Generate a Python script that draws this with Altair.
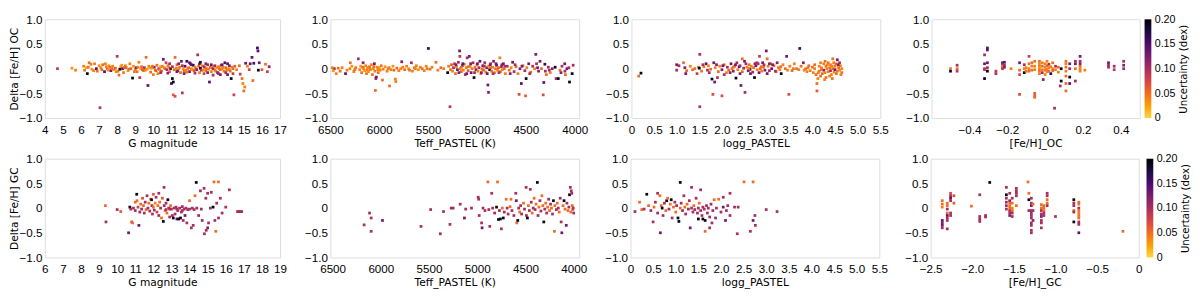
import altair as alt
import pandas as pd

# ---------- data: [x, delta, uncertainty] ----------
OC_G = [[4.7,0.0,.09],[5.5,0.01,.03],[5.7,-0.03,.04],[6.15,0.05,.04],[6.2,-0.03,.05],[6.3,0.02,.02],[6.35,-0.1,.19],[6.45,0.12,.05],[6.55,0.09,.04],[6.6,-0.01,.03],[6.75,0.1,.04],[6.85,0.0,.14],[6.9,-0.05,.05],[7.0,0.06,.03],[7.05,-0.79,.09],[7.1,0.02,.04],[7.2,0.08,.05],[7.3,-0.06,.14],[7.35,0.1,.04],[7.45,0.0,.06],[7.5,-0.03,.03],[7.55,0.06,.03],[7.6,0.03,.05],[7.65,-0.04,.13],[7.75,0.05,.04],[7.8,-0.02,.03],[7.9,0.01,.06],[8.0,0.25,.09],[8.05,-0.05,.04],[8.1,-0.13,.05],[8.15,-0.01,.19],[8.2,0.04,.03],[8.25,0.07,.03],[8.3,0.0,.14],[8.35,-0.08,.04],[8.45,0.06,.04],[8.5,0.02,.05],[8.6,-0.04,.03],[8.7,0.1,.04],[8.75,0.0,.06],[8.85,-0.19,.19],[8.9,0.05,.03],[8.95,-0.06,.04],[9.0,-0.02,.04],[9.05,0.02,.12],[9.1,-0.06,.05],[9.2,0.13,.04],[9.25,-0.18,.09],[9.3,0.0,.03],[9.35,0.04,.05],[9.45,-0.04,.04],[9.5,0.02,.10],[9.55,-0.03,.04],[9.6,0.23,.05],[9.65,-0.01,.03],[9.7,-0.34,.14],[9.75,0.05,.04],[9.8,0.02,.03],[9.85,-0.07,.05],[9.9,0.01,.03],[10.0,-0.12,.04],[10.05,0.03,.12],[10.1,-0.03,.04],[10.2,0.07,.05],[10.25,-0.1,.04],[10.3,0.0,.11],[10.35,-0.02,.04],[10.4,0.04,.03],[10.45,-0.05,.06],[10.55,0.19,.13],[10.6,0.02,.04],[10.65,0.0,.05],[10.7,0.12,.08],[10.75,-0.02,.10],[10.8,0.06,.04],[10.85,0.03,.04],[10.9,-0.06,.05],[10.95,0.0,.15],[11.0,-0.3,.16],[11.05,-0.2,.19],[11.1,-0.27,.19],[11.1,-0.53,.06],[11.15,-0.02,.05],[11.2,-0.56,.07],[11.2,0.23,.05],[11.25,0.01,.04],[11.3,0.08,.05],[11.35,-0.04,.12],[11.4,0.0,.04],[11.45,0.03,.04],[11.5,-0.08,.05],[11.55,0.15,.13],[11.6,-0.49,.09],[11.65,0.0,.03],[11.7,-0.05,.05],[11.75,0.05,.14],[11.8,-0.03,.04],[11.85,0.15,.16],[11.9,0.0,.04],[11.95,0.02,.05],[12.0,-0.06,.13],[12.05,0.1,.12],[12.1,0.0,.04],[12.15,-0.02,.03],[12.2,0.07,.17],[12.25,-0.04,.06],[12.3,0.03,.04],[12.35,0.0,.05],[12.4,-0.02,.12],[12.45,0.28,.10],[12.5,0.05,.05],[12.55,-0.08,.04],[12.6,0.01,.19],[12.65,-0.03,.10],[12.7,0.06,.04],[12.75,-0.03,.04],[12.8,-0.1,.08],[12.85,0.02,.04],[12.9,-0.04,.05],[12.95,0.0,.05],[13.0,0.08,.10],[13.05,-0.01,.04],[13.1,-0.27,.14],[13.15,0.03,.05],[13.2,-0.06,.04],[13.25,0.02,.04],[13.3,0.0,.12],[13.35,0.05,.04],[13.4,-0.03,.05],[13.45,-0.05,.04],[13.5,0.02,.03],[13.55,-0.08,.13],[13.6,0.04,.04],[13.65,0.0,.05],[13.7,-0.02,.05],[13.75,0.07,.10],[13.8,0.0,.04],[13.85,0.03,.04],[13.9,-0.05,.04],[13.95,0.12,.14],[14.0,0.02,.05],[14.05,-0.03,.04],[14.1,0.1,.14],[14.15,0.0,.03],[14.2,-0.02,.04],[14.25,-0.05,.05],[14.3,-0.2,.19],[14.35,0.03,.04],[14.4,0.0,.05],[14.45,-0.53,.08],[14.5,0.05,.06],[14.6,-0.02,.04],[14.75,0.06,.05],[14.8,-0.11,.08],[14.9,-0.2,.05],[14.95,-0.3,.04],[15.0,-0.45,.05],[15.05,-0.37,.04],[15.1,0.11,.13],[15.2,0.05,.04],[15.3,-0.02,.08],[15.35,0.1,.14],[15.45,0.23,.14],[15.5,-0.24,.05],[15.55,0.11,.15],[15.75,0.42,.16],[15.78,0.36,.14],[15.8,-0.03,.19],[15.85,0.12,.13],[16.0,-0.02,.06],[16.2,0.09,.05],[16.3,-0.06,.08],[16.4,0.04,.11]]
OC_G_BAND = [[6.4,0.03,.05],[6.7,-0.04,.04],[7.15,-0.02,.05],[7.4,0.04,.04],[7.7,0.0,.05],[7.95,-0.06,.04],[8.4,0.02,.06],[8.65,-0.01,.05],[9.15,0.03,.04],[9.4,-0.02,.06],[9.95,0.05,.05],[10.15,-0.04,.06],[10.5,0.05,.04],[10.8,-0.09,.12],[11.05,0.04,.10],[11.3,-0.06,.13],[11.6,0.06,.10],[11.85,-0.07,.05],[12.1,0.08,.14],[12.3,-0.09,.10],[12.55,0.1,.13],[12.8,0.04,.10],[13.0,-0.08,.12],[13.2,0.08,.13],[13.4,0.06,.10],[13.6,-0.1,.10],[13.8,0.08,.13],[14.0,-0.08,.10],[14.2,0.06,.12],[14.4,-0.1,.08],[12.0,0.12,.14],[12.6,0.13,.17],[13.7,-0.12,.12],[11.4,0.1,.12],[10.9,0.1,.10],[14.1,-0.12,.13],[13.3,-0.13,.10],[12.9,0.1,.12],[11.7,-0.1,.12],[10.4,-0.08,.10]]

OC_TEFF = [[6460,0.0,.12],[6480,0.02,.04],[6470,-0.04,.03],[6440,-0.1,.04],[6420,0.01,.05],[6400,-0.05,.05],[6380,0.02,.04],[6345,-0.1,.14],[6330,-0.03,.04],[6300,0.0,.04],[6296,0.12,.05],[6280,0.05,.03],[6260,-0.06,.04],[6240,0.02,.05],[6214,0.2,.10],[6200,-0.02,.04],[6190,0.05,.03],[6180,-0.08,.05],[6165,0.12,.12],[6160,0.0,.04],[6150,-0.04,.03],[6140,0.06,.04],[6130,-0.1,.05],[6120,0.02,.04],[6110,-0.06,.03],[6100,0.04,.05],[6090,-0.02,.04],[6080,0.08,.04],[6070,-0.12,.05],[6060,0.0,.03],[6050,0.1,.13],[6045,-0.05,.04],[6040,-0.44,.05],[6035,-0.2,.10],[6030,-0.17,.13],[6020,0.03,.04],[6010,-0.08,.05],[6000,0.02,.03],[5990,-0.03,.04],[5980,0.06,.05],[5967,-0.23,.05],[5960,-0.01,.04],[5940,0.04,.03],[5920,-0.05,.04],[5900,0.02,.05],[5895,-0.35,.05],[5880,-0.02,.04],[5860,0.05,.03],[5836,-0.21,.04],[5830,-0.26,.04],[5820,0.01,.05],[5800,-0.04,.04],[5770,0.14,.12],[5760,0.03,.04],[5740,-0.02,.05],[5720,0.05,.04],[5700,0.0,.03],[5671,0.12,.10],[5660,-0.05,.04],[5640,0.02,.05],[5620,0.06,.04],[5600,-0.02,.03],[5580,0.03,.04],[5560,0.0,.05],[5540,-0.04,.04],[5520,0.05,.04],[5497,0.41,.16],[5480,-0.01,.05],[5460,0.03,.04],[5420,0.13,.05],[5400,-0.03,.04],[5370,0.02,.05],[5340,0.0,.04],[5300,-0.08,.19],[5290,0.05,.04],[5276,-0.77,.09],[5270,-0.02,.05],[5260,0.08,.06],[5250,-0.05,.04],[5240,0.02,.10],[5230,0.1,.08],[5220,-0.1,.05],[5210,0.04,.04],[5200,-0.02,.13],[5190,0.13,.10],[5178,0.36,.13],[5175,0.25,.09],[5170,0.0,.04],[5160,-0.06,.05],[5150,0.06,.12],[5140,-0.03,.04],[5130,0.09,.05],[5120,-0.12,.10],[5110,0.02,.04],[5100,0.22,.10],[5090,-0.04,.06],[5079,0.25,.13],[5070,0.05,.04],[5060,-0.08,.13],[5050,0.0,.05],[5040,0.12,.10],[5030,-0.18,.19],[5020,0.03,.04],[5010,-0.02,.12],[5000,0.08,.05],[4990,-0.05,.04],[4980,0.02,.10],[4970,0.15,.14],[4960,-0.1,.05],[4950,0.0,.04],[4940,0.06,.13],[4930,-0.03,.05],[4920,0.12,.10],[4910,-0.07,.04],[4900,0.02,.12],[4888,-0.33,.13],[4882,-0.48,.12],[4880,0.05,.04],[4870,-0.02,.19],[4860,0.1,.10],[4850,-0.05,.05],[4840,0.03,.04],[4830,0.15,.12],[4820,-0.08,.04],[4810,0.0,.05],[4800,0.07,.14],[4790,-0.03,.04],[4780,0.02,.06],[4766,0.22,.04],[4760,-0.06,.05],[4750,0.04,.10],[4740,-0.02,.04],[4730,0.1,.13],[4720,0.0,.05],[4710,-0.1,.04],[4690,0.05,.10],[4670,-0.03,.05],[4650,0.02,.04],[4635,0.13,.13],[4620,-0.06,.10],[4600,0.04,.05],[4580,-0.1,.04],[4569,-0.52,.07],[4560,0.0,.12],[4546,-0.3,.14],[4530,0.06,.05],[4510,-0.04,.10],[4503,-0.55,.06],[4497,-0.2,.19],[4490,0.02,.04],[4470,0.1,.13],[4450,-0.07,.05],[4430,0.05,.10],[4410,0.0,.04],[4398,0.29,.12],[4390,0.1,.10],[4370,-0.05,.12],[4355,0.15,.13],[4340,0.0,.05],[4322,-0.53,.07],[4316,-0.28,.14],[4305,0.09,.16],[4300,-0.05,.10],[4290,-0.12,.05],[4270,0.03,.10],[4250,-0.08,.04],[4230,0.0,.12],[4200,0.03,.19],[4190,-0.2,.10],[4168,-0.2,.19],[4150,-0.03,.05],[4130,0.05,.10],[4102,0.1,.13],[4100,-0.05,.10],[4095,-0.12,.05],[4080,0.0,.13],[4053,-0.27,.19],[4026,-0.1,.19],[4016,0.07,.10]]
OC_TEFF_BAND = [[6250,-0.02,.05],[6170,0.03,.05],[6125,-0.03,.04],[6095,0.0,.04],[6055,0.04,.05],[6015,-0.02,.04],[5910,0.0,.04],[5850,-0.03,.05],[5780,0.0,.04],[5690,-0.03,.05],[5630,0.0,.04],[5510,0.0,.05],[5215,0.08,.13],[5185,-0.08,.12],[5145,0.1,.14],[5105,-0.1,.13],[5065,0.1,.12],[5025,-0.08,.10],[4995,0.1,.13],[4955,-0.08,.12],[4925,0.05,.10],[4895,-0.1,.13],[4865,0.08,.12],[4835,-0.1,.10],[4805,0.1,.13],[4775,-0.08,.10],[4745,0.08,.12],[4715,0.05,.10],[4660,-0.1,.12],[4610,0.08,.10],[4540,0.05,.12],[4460,-0.1,.10],[4380,0.02,.13],[4260,-0.03,.10],[4140,-0.08,.12],[4060,0.02,.10],[5160,0.03,.05],[5090,0.04,.05],[4940,-0.02,.05],[4860,0.02,.05]]

OC_LOGG = [[0.16,-0.15,.05],[0.21,-0.09,.19],[1.0,0.08,.13],[1.0,-0.03,.10],[1.05,0.06,.10],[1.15,0.12,.05],[1.18,0.02,.12],[1.2,-0.1,.13],[1.22,-0.04,.05],[1.3,0.05,.04],[1.35,-0.02,.05],[1.45,-0.1,.08],[1.48,0.03,.04],[1.51,-0.77,.09],[1.51,0.29,.10],[1.5,0.01,.19],[1.55,-0.05,.05],[1.6,0.04,.04],[1.65,0.1,.14],[1.68,-0.03,.10],[1.7,0.06,.04],[1.75,-0.01,.05],[1.78,-0.21,.19],[1.8,-0.52,.07],[1.82,0.12,.13],[1.84,-0.27,.13],[1.85,0.02,.04],[1.9,-0.18,.09],[1.92,-0.06,.05],[1.95,0.05,.04],[2.0,-0.55,.07],[2.0,-0.02,.12],[2.05,0.08,.05],[2.1,-0.08,.04],[2.12,0.03,.10],[2.15,-0.03,.05],[2.2,0.1,.13],[2.22,0.0,.04],[2.25,-0.05,.12],[2.28,0.05,.05],[2.31,-0.19,.19],[2.33,0.12,.10],[2.35,-0.02,.04],[2.38,0.04,.14],[2.42,-0.34,.13],[2.45,0.2,.05],[2.45,-0.06,.05],[2.48,0.01,.10],[2.5,0.15,.13],[2.51,-0.48,.10],[2.55,0.03,.04],[2.58,-0.04,.12],[2.6,0.08,.05],[2.62,-0.01,.19],[2.65,0.05,.04],[2.68,-0.07,.10],[2.7,0.02,.05],[2.72,-0.18,.19],[2.75,0.06,.13],[2.78,-0.02,.04],[2.8,0.1,.10],[2.83,0.25,.08],[2.85,0.0,.05],[2.88,-0.05,.04],[2.9,0.12,.13],[2.92,0.03,.05],[2.95,-0.03,.12],[2.98,0.36,.13],[3.0,0.2,.05],[3.02,0.05,.04],[3.05,-0.04,.10],[3.08,0.1,.04],[3.1,0.0,.13],[3.15,0.06,.05],[3.2,-0.06,.04],[3.22,0.12,.12],[3.25,0.02,.05],[3.28,-0.02,.04],[3.31,-0.1,.19],[3.35,0.08,.04],[3.4,0.0,.05],[3.43,0.25,.13],[3.45,-0.03,.04],[3.48,-0.52,.07],[3.5,0.05,.04],[3.55,-0.04,.05],[3.6,0.1,.04],[3.65,0.0,.05],[3.72,0.41,.16],[3.7,-0.02,.04],[3.75,0.05,.05],[3.8,0.12,.12],[3.82,-0.03,.04],[3.85,0.0,.05],[3.88,-0.06,.04],[3.9,0.02,.05],[3.95,-0.04,.04],[4.0,0.03,.05],[4.02,-0.08,.04],[4.05,0.0,.04],[4.08,-0.12,.05],[4.1,-0.45,.06],[4.1,-0.3,.05],[4.12,-0.2,.04],[4.15,0.05,.04],[4.15,-0.05,.05],[4.18,-0.15,.05],[4.2,0.02,.04],[4.22,-0.1,.05],[4.25,0.1,.04],[4.25,-0.03,.12],[4.28,-0.08,.04],[4.3,0.05,.05],[4.3,-0.18,.05],[4.32,0.0,.04],[4.35,-0.06,.04],[4.35,0.12,.05],[4.38,0.02,.05],[4.4,-0.04,.10],[4.4,0.08,.04],[4.42,-0.12,.04],[4.45,0.2,.05],[4.45,0.0,.05],[4.48,-0.07,.04],[4.5,0.05,.04],[4.5,-0.02,.13],[4.52,0.1,.05],[4.55,0.18,.13],[4.55,-0.05,.04],[4.58,0.02,.05],[4.6,0.12,.10],[4.6,-0.03,.04],[4.62,0.06,.04],[4.65,-0.08,.05],[4.65,0.0,.04]]
OC_LOGG_BAND = [[1.4,0.0,.05],[1.58,0.08,.10],[1.72,-0.08,.10],[1.88,0.08,.12],[2.02,0.06,.13],[2.18,-0.08,.12],[2.3,0.08,.13],[2.4,-0.1,.12],[2.53,0.1,.10],[2.63,-0.1,.13],[2.73,0.1,.12],[2.82,-0.08,.13],[2.93,0.08,.10],[3.0,-0.1,.13],[3.12,0.08,.12],[3.18,-0.05,.10],[2.25,0.03,.05],[2.6,0.0,.05],[2.87,0.04,.05],[3.3,0.04,.05],[3.58,0.0,.05],[3.92,0.06,.05],[4.05,0.08,.05],[4.18,0.12,.04],[4.28,0.15,.05],[4.38,-0.15,.04],[4.43,0.05,.04],[4.47,0.12,.04],[4.53,-0.1,.05],[4.57,0.08,.12],[4.63,-0.12,.04],[4.27,-0.22,.04],[4.33,0.08,.04],[4.2,-0.02,.05],[4.44,-0.2,.05],[4.13,-0.08,.04],[2.05,-0.12,.10],[2.4,0.06,.10],[2.77,0.12,.10],[3.05,0.1,.12]]

OC_FEH = [[-0.5,-0.05,.19],[-0.5,0.0,.05],[-0.465,0.07,.10],[-0.465,0.0,.05],[-0.465,-0.05,.09],[-0.32,0.28,.10],[-0.32,0.1,.13],[-0.32,0.0,.10],[-0.32,-0.02,.09],[-0.32,-0.2,.19],[-0.305,0.42,.14],[-0.305,0.38,.14],[-0.305,0.12,.13],[-0.305,0.02,.10],[-0.305,-0.05,.19],[-0.26,-0.1,.10],[-0.26,-0.05,.09],[-0.225,0.12,.14],[-0.225,0.1,.13],[-0.225,0.08,.10],[-0.225,0.05,.04],[-0.225,0.02,.05],[-0.225,0.0,.09],[-0.215,0.13,.14],[-0.215,0.07,.10],[-0.215,0.03,.12],[-0.18,0.0,.04],[-0.135,0.12,.13],[-0.135,-0.03,.05],[-0.135,-0.52,.07],[-0.135,-0.12,.07],[-0.11,0.08,.10],[-0.11,0.0,.04],[-0.11,-0.08,.19],[-0.1,0.02,.04],[-0.1,-0.05,.05],[-0.085,0.25,.08],[-0.085,0.1,.05],[-0.085,0.0,.04],[-0.085,-0.05,.05],[-0.07,0.05,.04],[-0.07,-0.03,.05],[-0.07,0.12,.05],[-0.055,-0.5,.06],[-0.055,-0.55,.06],[-0.055,-0.58,.05],[-0.055,0.15,.05],[-0.055,0.05,.04],[-0.055,-0.02,.04],[-0.03,0.15,.05],[-0.03,0.1,.04],[-0.03,0.05,.04],[-0.03,0.0,.04],[-0.03,-0.05,.05],[-0.03,-0.1,.04],[-0.015,0.12,.04],[-0.015,0.05,.05],[-0.015,-0.02,.04],[-0.015,-0.08,.10],[-0.01,-0.22,.12],[0.0,0.1,.04],[0.0,0.03,.04],[0.0,-0.03,.05],[0.0,-0.12,.04],[0.01,0.15,.04],[0.01,0.06,.05],[0.01,-0.01,.04],[0.01,-0.06,.04],[0.02,0.09,.10],[0.02,0.02,.04],[0.02,-0.05,.05],[0.03,-0.1,.16],[0.03,0.04,.04],[0.04,0.12,.05],[0.04,0.0,.04],[0.04,-0.04,.05],[0.05,-0.8,.10],[0.055,0.05,.10],[0.055,-0.02,.04],[0.07,0.03,.05],[0.07,-0.07,.04],[0.08,-0.35,.10],[0.085,0.0,.19],[0.085,-0.25,.19],[0.11,0.15,.05],[0.11,0.1,.04],[0.11,0.03,.05],[0.11,-0.05,.04],[0.11,-0.15,.05],[0.11,-0.3,.05],[0.11,-0.45,.05],[0.13,-0.3,.14],[0.13,-0.17,.19],[0.13,0.1,.13],[0.13,0.0,.10],[0.16,-0.25,.10],[0.16,0.0,.05],[0.16,0.1,.13],[0.16,0.15,.10],[0.185,0.25,.13],[0.185,0.15,.10],[0.185,0.1,.12],[0.185,0.05,.05],[0.185,0.0,.04],[0.185,-0.05,.04],[0.21,-0.03,.04],[0.335,0.12,.13],[0.335,0.07,.10],[0.335,0.03,.10],[0.365,0.05,.10],[0.365,-0.02,.09],[0.415,0.15,.10],[0.415,0.07,.12],[0.415,0.0,.10]]

GC_G = [[9.35,0.05,.05],[9.38,-0.28,.10],[10.0,-0.03,.10],[10.2,-0.07,.06],[10.63,-0.5,.13],[10.7,0.02,.19],[10.75,-0.02,.10],[10.8,-0.28,.07],[10.85,-0.3,.05],[10.9,0.0,.10],[11.0,0.12,.05],[11.0,-0.05,.10],[11.08,0.28,.19],[11.1,0.15,.05],[11.15,0.02,.08],[11.2,-0.35,.13],[11.25,-0.08,.10],[11.3,0.08,.05],[11.35,-0.02,.10],[11.4,0.2,.07],[11.45,0.05,.05],[11.5,-0.1,.10],[11.55,0.12,.10],[11.6,-0.03,.05],[11.65,0.25,.10],[11.7,0.0,.10],[11.75,0.1,.05],[11.8,-0.06,.10],[11.85,0.18,.05],[11.9,0.17,.19],[11.92,0.05,.10],[11.95,-0.12,.10],[12.0,0.28,.06],[12.0,0.02,.05],[12.05,-0.04,.10],[12.1,0.1,.04],[12.15,0.22,.10],[12.2,-0.08,.08],[12.25,0.05,.05],[12.3,0.3,.10],[12.3,-0.15,.10],[12.35,0.12,.05],[12.4,0.0,.10],[12.45,-0.2,.05],[12.5,0.2,.06],[12.55,-0.27,.19],[12.59,0.42,.10],[12.6,0.05,.10],[12.65,-0.05,.05],[12.7,0.1,.10],[12.7,-0.03,.10],[12.75,-0.1,.05],[12.8,0.17,.19],[12.85,0.0,.10],[12.9,-0.18,.10],[12.9,-0.02,.10],[12.95,0.05,.05],[13.0,-0.02,.10],[13.05,-0.15,.10],[13.1,-0.2,.19],[13.15,0.0,.10],[13.2,-0.12,.10],[13.25,0.02,.10],[13.3,-0.22,.14],[13.3,-0.02,.10],[13.35,-0.05,.10],[13.4,-0.22,.19],[13.45,0.0,.10],[13.5,-0.2,.19],[13.55,-0.08,.10],[13.6,0.03,.10],[13.6,-0.05,.10],[13.65,-0.25,.10],[13.7,-0.02,.10],[13.75,-0.15,.13],[13.8,0.0,.10],[13.85,-0.3,.10],[13.9,-0.03,.10],[14.0,0.15,.05],[14.0,-0.02,.10],[14.1,-0.4,.10],[14.15,0.0,.10],[14.2,-0.35,.10],[14.25,-0.03,.10],[14.3,0.25,.05],[14.37,0.52,.19],[14.4,0.0,.10],[14.5,-0.15,.10],[14.6,0.35,.10],[14.65,-0.02,.10],[14.7,-0.25,.10],[14.8,0.4,.10],[14.82,-0.52,.10],[14.9,0.2,.10],[14.92,-0.45,.10],[15.0,0.3,.10],[15.0,-0.4,.12],[15.05,-0.3,.10],[15.15,0.0,.10],[15.2,0.32,.10],[15.3,0.02,.19],[15.35,0.53,.05],[15.4,-0.25,.10],[15.45,-0.47,.05],[15.5,0.1,.10],[15.6,0.53,.05],[15.6,-0.2,.10],[15.7,0.2,.10],[15.8,-0.1,.10],[16.0,0.02,.10],[16.2,0.37,.10],[16.65,-0.07,.10],[16.72,-0.07,.10],[16.8,-0.07,.10],[16.88,-0.07,.10]]

GC_TEFF = [[6173,-0.34,.10],[6117,-0.1,.10],[6100,-0.2,.10],[6100,-0.47,.10],[5983,-0.25,.13],[5583,-0.37,.10],[5483,-0.03,.10],[5383,-0.52,.10],[5350,-0.07,.10],[5283,-0.33,.10],[5270,0.0,.10],[5250,0.0,.10],[5177,0.08,.10],[5133,-0.2,.13],[5120,-0.02,.10],[5060,0.0,.10],[4990,0.22,.10],[4985,0.18,.10],[4980,-0.15,.10],[4955,-0.3,.10],[4950,-0.4,.13],[4940,0.0,.10],[4920,-0.05,.10],[4890,0.53,.05],[4880,-0.03,.10],[4870,-0.37,.10],[4850,0.3,.10],[4840,0.0,.10],[4820,-0.1,.10],[4800,0.02,.19],[4790,0.53,.05],[4780,-0.23,.19],[4770,-0.05,.10],[4760,-0.22,.19],[4750,-0.42,.10],[4740,0.0,.05],[4730,-0.2,.19],[4720,-0.08,.10],[4700,0.18,.05],[4690,0.0,.10],[4680,-0.12,.10],[4660,0.03,.05],[4650,0.18,.05],[4640,-0.05,.10],[4620,-0.15,.10],[4600,0.3,.10],[4595,0.15,.13],[4590,-0.3,.05],[4580,-0.25,.19],[4570,0.0,.10],[4560,-0.08,.05],[4550,0.05,.10],[4540,-0.12,.10],[4520,0.1,.05],[4510,-0.02,.10],[4493,0.42,.10],[4490,-0.15,.10],[4480,-0.2,.19],[4470,0.05,.05],[4460,-0.05,.10],[4450,0.38,.10],[4440,0.12,.10],[4430,-0.1,.05],[4420,0.0,.10],[4410,0.2,.05],[4400,-0.03,.10],[4390,0.08,.05],[4377,0.52,.19],[4370,-0.15,.10],[4360,0.02,.05],[4350,0.15,.10],[4340,-0.06,.10],[4330,0.25,.05],[4320,0.05,.05],[4310,-0.28,.19],[4300,-0.02,.10],[4290,0.1,.05],[4280,-0.1,.10],[4270,0.02,.05],[4260,0.18,.10],[4250,-0.05,.05],[4240,0.08,.10],[4230,0.0,.05],[4220,-0.12,.10],[4210,0.15,.19],[4200,-0.47,.05],[4195,0.05,.05],[4180,-0.03,.10],[4170,0.1,.05],[4160,0.0,.10],[4150,-0.08,.05],[4140,0.2,.10],[4130,-0.28,.10],[4123,-0.5,.13],[4110,0.05,.05],[4100,0.15,.19],[4090,-0.02,.05],[4077,-0.35,.13],[4070,0.1,.10],[4060,-0.05,.05],[4050,0.02,.10],[4043,0.27,.19],[4035,0.42,.10],[4030,-0.08,.05],[4025,0.35,.10],[4020,0.3,.10],[4015,0.05,.05],[4010,-0.03,.05],[4005,0.0,.10],[4000,-0.1,.10]]

GC_LOGG = [[0.1,-0.07,.10],[0.2,0.12,.05],[0.25,-0.03,.05],[0.3,-0.02,.10],[0.36,0.28,.19],[0.4,0.05,.05],[0.45,-0.05,.10],[0.5,-0.28,.10],[0.52,0.02,.05],[0.55,0.12,.10],[0.6,0.3,.10],[0.6,-0.1,.10],[0.65,0.25,.05],[0.66,-0.5,.13],[0.68,0.05,.05],[0.7,0.0,.19],[0.72,-0.15,.10],[0.75,0.1,.10],[0.78,-0.05,.05],[0.8,0.15,.19],[0.82,0.2,.05],[0.85,-0.02,.10],[0.88,0.08,.05],[0.9,0.17,.19],[0.92,-0.2,.10],[0.95,0.02,.05],[0.98,0.12,.10],[1.0,-0.08,.05],[1.02,0.05,.10],[1.05,-0.2,.19],[1.07,-0.27,.19],[1.1,0.52,.19],[1.1,0.0,.05],[1.12,0.1,.10],[1.15,-0.05,.10],[1.18,0.25,.10],[1.2,0.02,.05],[1.22,-0.12,.10],[1.25,0.08,.05],[1.28,-0.02,.10],[1.3,0.15,.10],[1.32,-0.4,.13],[1.35,0.42,.10],[1.35,0.0,.10],[1.38,-0.08,.10],[1.4,0.05,.05],[1.42,-0.03,.10],[1.45,0.2,.10],[1.48,-0.1,.10],[1.5,-0.22,.19],[1.5,0.0,.10],[1.52,0.1,.05],[1.55,0.37,.10],[1.55,-0.05,.10],[1.58,-0.15,.10],[1.6,-0.22,.19],[1.6,0.02,.10],[1.63,-0.02,.10],[1.65,-0.25,.19],[1.65,-0.47,.05],[1.68,0.05,.10],[1.7,-0.1,.10],[1.72,0.0,.10],[1.75,-0.4,.10],[1.75,-0.18,.10],[1.78,0.08,.10],[1.8,-0.3,.10],[1.82,-0.05,.10],[1.85,0.17,.05],[1.88,-0.2,.10],[1.9,0.0,.10],[1.95,0.18,.05],[2.0,-0.08,.10],[2.05,0.22,.10],[2.05,0.02,.13],[2.1,-0.25,.13],[2.12,-0.05,.10],[2.15,0.05,.10],[2.2,0.3,.10],[2.2,-0.15,.10],[2.3,0.02,.10],[2.36,-0.52,.10],[2.38,0.02,.10],[2.51,0.53,.05],[2.65,-0.47,.10],[2.71,0.53,.05],[2.71,-0.25,.13],[2.75,-0.15,.10],[2.76,-0.35,.10],[3.0,-0.03,.10],[3.24,-0.07,.10]]

GC_FEH = [[-2.36,0.15,.05],[-2.36,0.08,.05],[-2.36,0.02,.04],[-2.36,-0.25,.14],[-2.36,-0.3,.12],[-2.36,-0.35,.13],[-2.36,-0.4,.10],[-2.3,0.1,.05],[-2.3,0.05,.05],[-2.3,-0.02,.10],[-2.3,-0.1,.05],[-2.3,-0.15,.14],[-2.3,-0.2,.10],[-2.3,-0.25,.10],[-2.3,-0.42,.10],[-2.26,0.3,.07],[-2.26,0.25,.10],[-2.26,0.2,.14],[-2.26,0.15,.10],[-2.26,-0.1,.10],[-2.26,-0.15,.10],[-2.22,0.25,.07],[-2.22,0.1,.06],[-2.01,0.04,.05],[-1.91,0.27,.10],[-1.91,-0.17,.10],[-1.91,-0.22,.10],[-1.91,-0.27,.10],[-1.84,-0.15,.10],[-1.84,-0.18,.10],[-1.79,0.52,.19],[-1.59,0.42,.10],[-1.59,0.27,.19],[-1.59,0.2,.10],[-1.59,0.12,.10],[-1.59,0.05,.10],[-1.59,-0.02,.10],[-1.55,0.3,.10],[-1.55,0.15,.12],[-1.55,0.1,.05],[-1.55,0.05,.05],[-1.55,0.0,.05],[-1.55,-0.05,.10],[-1.55,-0.1,.10],[-1.55,-0.15,.12],[-1.52,0.2,.10],[-1.52,0.1,.05],[-1.52,0.0,.04],[-1.52,-0.05,.05],[-1.52,-0.1,.10],[-1.52,-0.17,.10],[-1.47,0.4,.10],[-1.47,0.35,.10],[-1.47,0.3,.10],[-1.47,0.25,.10],[-1.47,0.05,.05],[-1.33,0.53,.05],[-1.32,0.3,.05],[-1.32,0.17,.19],[-1.32,-0.05,.10],[-1.29,0.2,.10],[-1.29,0.1,.10],[-1.29,0.05,.12],[-1.29,-0.05,.10],[-1.29,-0.1,.10],[-1.29,-0.15,.10],[-1.29,-0.2,.10],[-1.29,-0.3,.10],[-1.29,-0.35,.10],[-1.29,-0.45,.10],[-1.29,-0.5,.10],[-1.27,0.08,.05],[-1.27,-0.05,.10],[-1.27,-0.25,.12],[-1.17,0.07,.05],[-1.17,0.0,.05],[-1.17,-0.05,.10],[-1.17,-0.12,.10],[-1.17,-0.17,.12],[-1.17,-0.25,.10],[-1.17,-0.3,.10],[-1.17,-0.4,.10],[-1.14,0.05,.05],[-1.14,0.0,.05],[-1.14,-0.05,.05],[-1.14,-0.1,.10],[-1.14,-0.15,.10],[-1.1,0.3,.10],[-1.1,0.25,.10],[-1.1,0.17,.05],[-1.1,0.1,.05],[-1.1,0.05,.10],[-1.0,-0.17,.10],[-0.78,0.17,.19],[-0.78,0.1,.10],[-0.78,0.05,.10],[-0.78,-0.05,.05],[-0.78,-0.08,.10],[-0.78,-0.28,.19],[-0.72,0.12,.05],[-0.72,0.08,.05],[-0.72,0.0,.10],[-0.72,-0.05,.05],[-0.72,-0.1,.04],[-0.72,-0.15,.05],[-0.72,-0.2,.05],[-0.72,-0.28,.10],[-0.72,-0.33,.10],[-0.72,-0.5,.14],[-0.19,-0.47,.05]]

# axis ticks / labels
Y_TICKS = [-1, -0.5, 0, 0.5, 1]
G_OC_TICKS = list(range(4, 18))
G_GC_TICKS = list(range(6, 20))
TEFF_TICKS = [6500, 6000, 5500, 5000, 4500, 4000]
LOGG_TICKS = [0, 0.5, 1.0, 1.5, 2.0, 2.5, 3.0, 3.5, 4.0, 4.5, 5.0, 5.5]
FEH_OC_TICKS = [-0.4, -0.2, 0, 0.2, 0.4]
FEH_GC_TICKS = [-2.5, -2.0, -1.5, -1.0, -0.5, 0]
U_TICKS = [0, 0.05, 0.10, 0.15, 0.20]
U_RANGE = [0.0, 0.2]
# colour bar colours (inferno, 0.9 -> 0)
CBAR_COLORS = ["#f6d746", "#fca50a", "#f37819", "#dd513a", "#bc3754",
               "#932667", "#6a176e", "#420a68", "#160b39", "#000004"]

LBL_FONT = "Liberation Sans"
TTL_FONT = "DejaVu Sans"
EXPR1 = "datum.value == 0 ? '0' : format(datum.value, '.1f')"
EXPR2 = "datum.value == 0 ? '0' : format(datum.value, '.2f')"

color_scale = alt.Scale(scheme=alt.SchemeParams(name="inferno", extent=[0.9, 0.0]), domain=U_RANGE)
H = 102


def panel(data, xtitle, xdomain, xticks, xexpr, width, ytitle=None, reverse=False):
    df = pd.DataFrame(data, columns=["x", "y", "u"])
    xaxis = alt.Axis(values=xticks, labelExpr=xexpr, ticks=False, domain=False, grid=False,
                     labelFlush=False, labelOverlap=False, labelPadding=7, titlePadding=2,
                     labelFont=LBL_FONT, labelFontSize=12, titleFont=TTL_FONT, titleFontSize=11,
                     titleFontWeight="normal", labelColor="black", titleColor="black")
    yaxis = alt.Axis(values=Y_TICKS, labelExpr=EXPR1, ticks=False, domain=False, grid=False,
                     minExtent=26, maxExtent=26, labelPadding=3, titlePadding=0,
                     labelFont=LBL_FONT, labelFontSize=12, titleFont=TTL_FONT, titleFontSize=11,
                     titleFontWeight="normal", labelColor="black", titleColor="black")
    yenc = alt.Y("y:Q", scale=alt.Scale(domain=[-1, 1], nice=False, zero=False), axis=yaxis,
                 title=ytitle if ytitle else None)
    return alt.Chart(df).mark_square(size=8, opacity=1).encode(
        x=alt.X("x:Q", title=xtitle, axis=xaxis,
                scale=alt.Scale(domain=xdomain, nice=False, zero=False, reverse=reverse)),
        y=yenc,
        color=alt.Color("u:Q", scale=color_scale, legend=None),
    ).properties(width=width, height=H)


def colorbar():
    df = pd.DataFrame({"lo": [U_RANGE[0]], "hi": [U_RANGE[1]]})
    n = len(CBAR_COLORS) - 1
    grad = alt.Gradient(gradient="linear",
                        stops=[alt.GradientStop(color=c, offset=i / n) for i, c in enumerate(CBAR_COLORS)],
                        x1=0, x2=0, y1=1, y2=0)
    axis = alt.Axis(orient="right", values=U_TICKS, labelExpr=EXPR2, ticks=False, domain=False,
                    grid=False, labelPadding=3, labelFont=LBL_FONT, labelFontSize=11,
                    labelColor="black", labelOverlap=False, labelFlush=False,
                    title="Uncertainty (dex)", titleAngle=270, titleBaseline="top",
                    titleFont=TTL_FONT, titleFontSize=10.5, titleFontWeight="normal",
                    titleColor="black", titlePadding=4)
    return alt.Chart(df).mark_rect(fill=grad).encode(
        x=alt.value(0), x2=alt.value(7),
        y=alt.Y("lo:Q", scale=alt.Scale(domain=U_RANGE, nice=False, zero=False), axis=axis),
        y2="hi:Q",
    ).properties(width=7, height=H, view=alt.ViewBackground(stroke="transparent"))


row1 = alt.hconcat(
    panel(OC_G + OC_G_BAND, "G magnitude", [4, 17], G_OC_TICKS, "format(datum.value, 'd')", 243, ytitle="Delta [Fe/H] OC"),
    panel(OC_TEFF + OC_TEFF_BAND, "Teff_PASTEL (K)", [3954, 6500], TEFF_TICKS, "format(datum.value, 'd')", 257, reverse=True),
    panel(OC_LOGG + OC_LOGG_BAND, "logg_PASTEL", [0, 5.5], LOGG_TICKS, EXPR1, 257),
    alt.hconcat(panel(OC_FEH, "[Fe/H]_OC", [-0.6, 0.5], FEH_OC_TICKS, EXPR1, 215), colorbar(), spacing=3),
    spacing=16,
)
row2 = alt.hconcat(
    panel(GC_G, "G magnitude", [6, 19], G_GC_TICKS, "format(datum.value, 'd')", 243, ytitle="Delta [Fe/H] GC"),
    panel(GC_TEFF, "Teff_PASTEL (K)", [3943, 6523], TEFF_TICKS, "format(datum.value, 'd')", 257, reverse=True),
    panel(GC_LOGG, "logg_PASTEL", [0, 5.5], LOGG_TICKS, EXPR1, 257),
    alt.hconcat(panel(GC_FEH, "[Fe/H]_GC", [-2.5, 0], FEH_GC_TICKS, EXPR1, 215), colorbar(), spacing=3),
    spacing=16,
)

chart = alt.vconcat(row1, row2, spacing=3).properties(
    padding={"left": 0, "top": 0, "right": 0, "bottom": 0}
).configure_view(stroke="#b4b4b4", strokeWidth=1).configure(background="white")

chart.save("out.html", embed_options={"renderer": "svg", "actions": False})
